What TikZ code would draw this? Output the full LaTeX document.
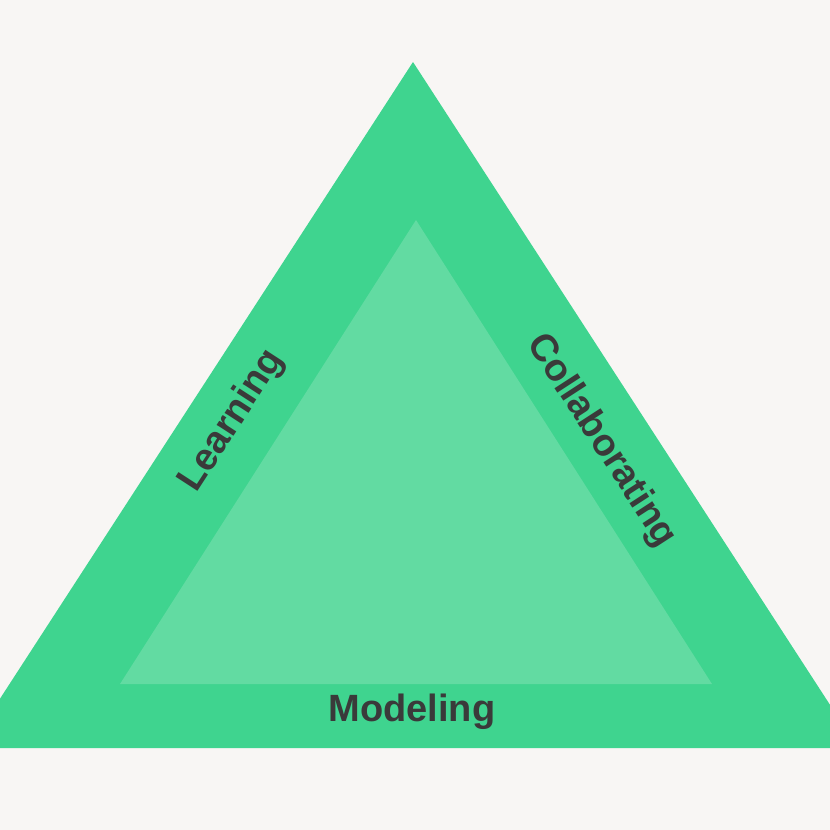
\documentclass[tikz,border=0pt]{standalone}
\usepackage{fontspec}
\setmainfont{Liberation Sans}
\definecolor{bg}{HTML}{F8F6F4}
\definecolor{outer}{HTML}{3FD48F}
\definecolor{inner}{HTML}{62DBA2}
\definecolor{txt}{HTML}{3A3A3A}
\begin{document}
\begin{tikzpicture}[x=1pt,y=-1pt,
  lbl/.style={text=txt,font=\fontsize{38}{40}\selectfont\bfseries,inner sep=0pt}]
\useasboundingbox (0,0) rectangle (830,830);
\fill[bg] (0,0) rectangle (830,830);
\begin{scope}
\clip (0,0) rectangle (830,830);
\fill[outer] (413,62) -- (858,748) -- (-32,748) -- cycle;
\end{scope}
\fill[inner] (416,220) -- (712,684) -- (120,684) -- cycle;
\node[lbl,rotate=57] (learn) at (232,421) {Learning};
\node[lbl,rotate=-57] (collab) at (601,441) {Collaborating};
\node[lbl] (model) at (412,712) {Modeling};
\end{tikzpicture}
\end{document}
